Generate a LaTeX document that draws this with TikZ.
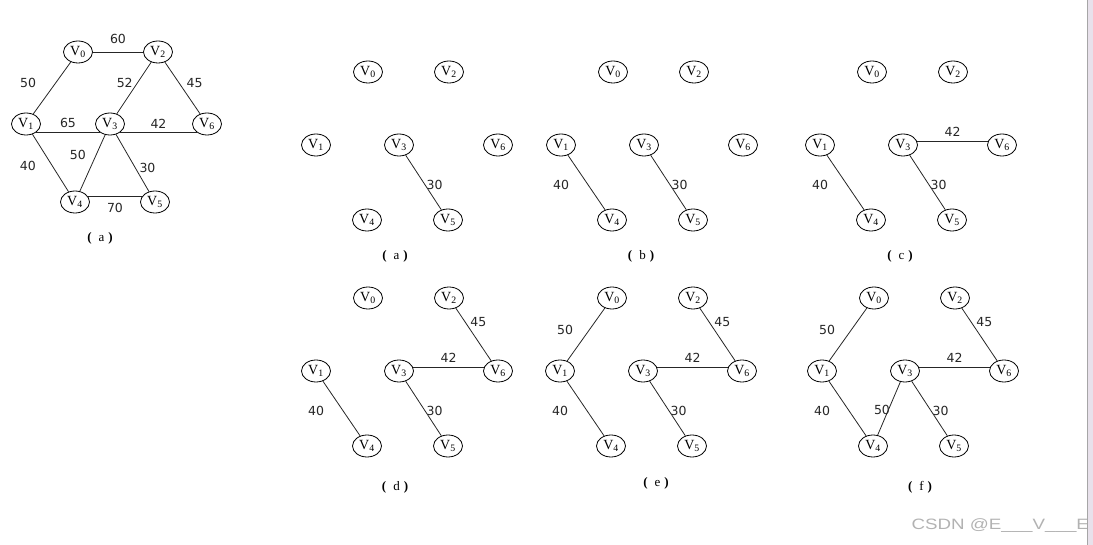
\documentclass[tikz,border=0pt]{standalone}
\usepackage{fontspec}
\setmainfont{Liberation Serif}
\newfontfamily\numfont{DejaVu Sans}
\newfontfamily\wmfont{Liberation Sans}
\usetikzlibrary{shapes.geometric}
\definecolor{stripbg}{RGB}{232,225,235}
\newcommand{\capt}[1]{\textbf{(}\hspace{7pt}#1\hspace{4pt}\textbf{)}}
\tikzset{
  vtx/.style={draw, ellipse, minimum width=29pt, minimum height=22pt, inner sep=0pt,
    line width=0.8pt, fill=white, font=\fontsize{14}{14}\selectfont},
  wt/.style={inner sep=0pt, font=\numfont\fontsize{12.5}{12.5}\selectfont},
  link/.style={line width=0.8pt, black!85},
  subcap/.style={font=\fontsize{13}{13}\selectfont},
  wmark/.style={text=black!30, font=\wmfont\fontsize{15}{15}\selectfont}
}
\begin{document}
\begin{tikzpicture}[x=1pt, y=-1pt]
  \useasboundingbox (0,0) rectangle (1093,545);
  % whole graph
  \foreach \n/\x/\y in {0/78/52, 2/158/52, 1/26/124, 3/110/124, 6/207/124, 4/75/202, 5/155/202}
    \node[vtx] (g\n) at (\x,\y) {V\textsubscript{\n}};
  \draw[link] (g0) -- node[wt, above=8pt] {60} (g2);
  \draw[link] (g0) -- node[wt, pos=.41, left=19pt] {50} (g1);
  \draw[link] (g2) -- node[wt, pos=.41, left=4pt] {52} (g3);
  \draw[link] (g2) -- node[wt, pos=.41, right=7pt] {45} (g6);
  \draw[link] (g1.-40) -- node[wt, above=4pt] {65} (g3.220);
  \draw[link] (g3.-40) -- node[wt, above=4pt] {42} (g6.220);
  \draw[link] (g3) -- node[wt, pos=.35, left=10pt] {50} (g4);
  \draw[link] (g1) -- node[wt, pos=.55, left=16pt] {40} (g4);
  \draw[link] (g3) -- node[wt, pos=.58, right=4pt] {30} (g5);
  \draw[link] (g4.25) -- node[wt, below=7pt] {70} (g5.155);
  \node[subcap] (capg) at (100,238) {\capt{a}};
  % steps a to f
  \foreach \g/\sx/\sy in {a/316/145, b/561/145, c/820/145, d/316/371, e/560/371, f/822/371}
    \foreach \n/\x/\y in {0/52/-73, 2/133/-73, 1/0/0, 3/83/0, 6/182/0, 4/51/75, 5/132/75}
      \node[vtx] (\g\n) at ([shift={(\sx,\sy)}]\x,\y) {V\textsubscript{\n}};
  \foreach \g in {a,b,c,d,e,f}
    \draw[link] (\g3) -- node[wt, pos=.55, right=1pt] {30} (\g5);
  \foreach \g in {b,c,d,e,f}
    \draw[link] (\g1) -- node[wt, pos=.55, left=19pt] {40} (\g4);
  \foreach \g in {c,d,e,f}
    \draw[link] (\g3.15) -- node[wt, above=4.5pt] {42} (\g6.165);
  \foreach \g in {d,e,f}
    \draw[link] (\g2) -- node[wt, pos=.26, right=5pt] {45} (\g6);
  \foreach \g in {e,f}
    \draw[link] (\g0) -- node[wt, pos=.41, left=16pt] {50} (\g1);
  \draw[link] (f3) -- node[wt, pos=.53, left=-2pt] {50} (f4);
  \node[subcap] (capa) at (395,256) {\capt{a}};
  \node[subcap] (capb) at (641,256) {\capt{b}};
  \node[subcap] (capc) at (900,256) {\capt{c}};
  \node[subcap] (capd) at (395,487) {\capt{d}};
  \node[subcap] (cape) at (656,483) {\capt{e}};
  \node[subcap] (capf) at (920,487) {\capt{f}};
  % watermark and page edge
  \node[wmark, anchor=west] (wm) at (908,526) {\scalebox{1.25}[1]{CSDN @E\_\_\_V\_\_\_E}};
  \fill[stripbg] (1088,0) rectangle (1093,545);
  \draw[black!35] (1087.5,0) -- (1087.5,545);
\end{tikzpicture}
\end{document}
